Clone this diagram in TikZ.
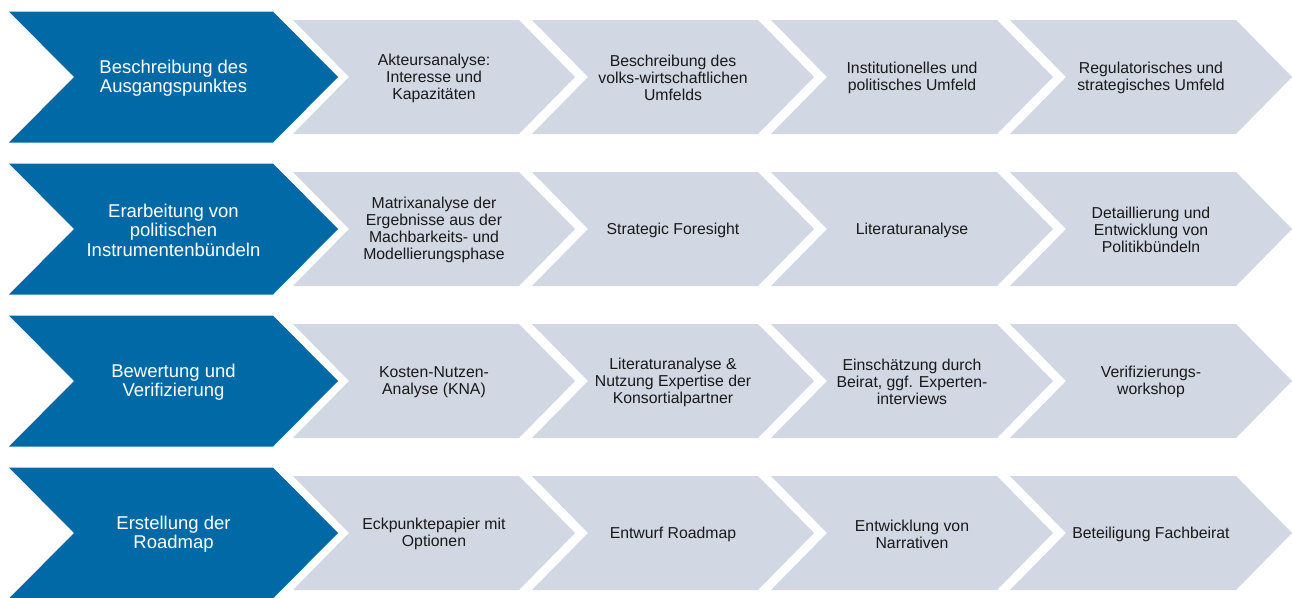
\documentclass[tikz,border=0pt]{standalone}
\usepackage{fontspec}
\setmainfont{Liberation Sans}
\usepackage{tikz}
\definecolor{phaseblue}{RGB}{0,105,166}
\definecolor{stepgray}{RGB}{209,216,227}
% chevron outlines (x = left edge, y = row centre)
\newcommand{\phasechev}[1]{\fill[phaseblue,shift={(9,#1)}] (0,-65.5) -- (264,-65.5) -- (329,0) -- (264,65.5) -- (0,65.5) -- (65,0) -- cycle;}
\newcommand{\stepchev}[2]{\fill[stepgray,shift={(#1,#2)}] (0,-57) -- (226,-57) -- (282,0) -- (226,57) -- (0,57) -- (56,0) -- cycle;}

\begin{document}
\begin{tikzpicture}[x=1pt, y=-1pt,
    phasetext/.style={text=white, align=center, font=\fontsize{18.5}{19.5}\selectfont},
    steptext/.style={text=black!90, align=center, font=\fontsize{15.8}{17}\selectfont}]
		\useasboundingbox (0,0) rectangle (1292,597);
		% row 1
		\phasechev{77}
		\stepchev{293}{77} \stepchev{532}{77} \stepchev{771}{77} \stepchev{1010}{77}
		\node[phasetext] (p1) at (173.5,78) {Beschreibung des\\Ausgangspunktes};
		\node[steptext] (s11) at (434,78) {Akteursanalyse:\\Interesse und\\Kapazitäten};
		\node[steptext] (s12) at (673,78) {Beschreibung des\\volks-wirtschaftlichen\\Umfelds};
		\node[steptext] (s13) at (912,78) {Institutionelles und\\politisches Umfeld};
		\node[steptext] (s14) at (1151,78) {Regulatorisches und\\strategisches Umfeld};
		% row 2
		\phasechev{229}
		\stepchev{293}{229} \stepchev{532}{229} \stepchev{771}{229} \stepchev{1010}{229}
		\node[phasetext] (p2) at (173.5,230) {Erarbeitung von\\politischen\\Instrumentenbündeln};
		\node[steptext] (s21) at (434,230) {Matrixanalyse der\\Ergebnisse aus der\\Machbarkeits- und\\Modellierungsphase};
		\node[steptext] (s22) at (673,230) {Strategic Foresight};
		\node[steptext] (s23) at (912,230) {Literaturanalyse};
		\node[steptext] (s24) at (1151,230) {Detaillierung und\\Entwicklung von\\Politikbündeln};
		% row 3
		\phasechev{381}
		\stepchev{293}{381} \stepchev{532}{381} \stepchev{771}{381} \stepchev{1010}{381}
		\node[phasetext] (p3) at (173.5,382) {Bewertung und\\Verifizierung};
		\node[steptext] (s31) at (434,382) {Kosten-Nutzen-\\Analyse (KNA)};
		\node[steptext] (s32) at (673,382) {Literaturanalyse \&\\Nutzung Expertise der\\Konsortialpartner};
		\node[steptext] (s33) at (912,382) {Einschätzung durch\\Beirat, ggf. Experten-\\interviews};
		\node[steptext] (s34) at (1151,382) {Verifizierungs-\\workshop};
		% row 4
		\phasechev{533}
		\stepchev{293}{533} \stepchev{532}{533} \stepchev{771}{533} \stepchev{1010}{533}
		\node[phasetext] (p4) at (173.5,534) {Erstellung der\\Roadmap};
		\node[steptext] (s41) at (434,534) {Eckpunktepapier mit\\Optionen};
		\node[steptext] (s42) at (673,534) {Entwurf Roadmap};
		\node[steptext] (s43) at (912,534) {Entwicklung von\\Narrativen};
		\node[steptext] (s44) at (1151,534) {Beteiligung Fachbeirat};
	\end{tikzpicture}
\end{document}
